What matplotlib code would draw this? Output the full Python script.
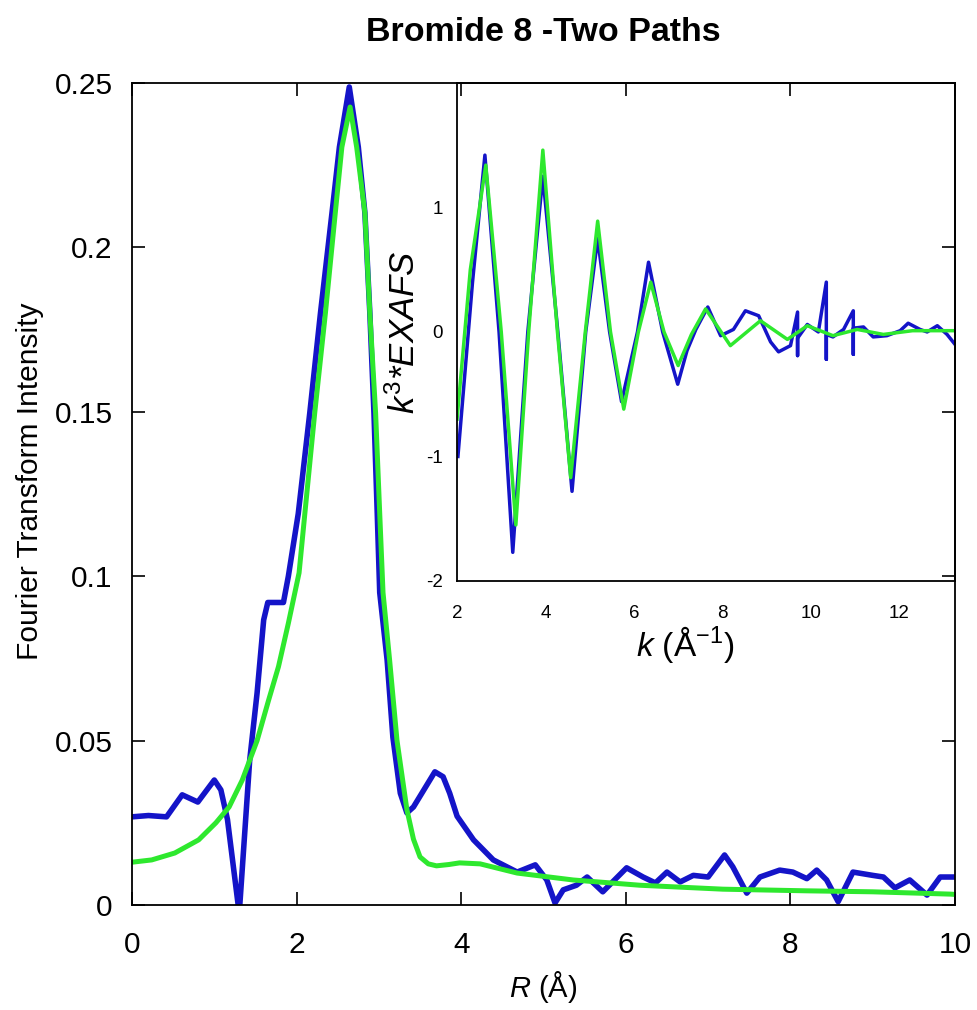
import matplotlib.pyplot as plt

plt.rcParams['font.family'] = ['Liberation Sans', 'DejaVu Sans']
plt.rcParams['mathtext.fontset'] = 'custom'
plt.rcParams['mathtext.rm'] = 'Liberation Sans'
plt.rcParams['mathtext.it'] = 'Liberation Sans:italic'
plt.rcParams['axes.unicode_minus'] = False

# Fourier transform magnitude vs R (Angstrom)
r_data = [0.0, 0.2, 0.42, 0.61, 0.8, 1.0, 1.08, 1.16, 1.23, 1.29, 1.31, 1.43, 1.52,
          1.6, 1.65, 1.84, 1.9, 2.02, 2.16, 2.29, 2.43, 2.52, 2.64, 2.75, 2.83,
          2.89, 2.94, 2.98, 3.01, 3.1, 3.17, 3.26, 3.34, 3.42, 3.68, 3.78, 3.86,
          3.95, 4.15, 4.39, 4.68, 4.9, 5.04, 5.14, 5.24, 5.4, 5.53, 5.72, 6.01,
          6.21, 6.36, 6.5, 6.66, 6.82, 7.0, 7.2, 7.3, 7.47, 7.63, 7.87, 8.03,
          8.2, 8.32, 8.44, 8.58, 8.76, 9.0, 9.13, 9.27, 9.45, 9.66, 9.82, 10.0]
ft_data = [0.0268, 0.0272, 0.0268, 0.0335, 0.0313, 0.038, 0.035, 0.026, 0.012, 0.0,
           0.0, 0.044, 0.0645, 0.0867, 0.092, 0.092, 0.1, 0.119, 0.1496, 0.18,
           0.2105, 0.2305, 0.2488, 0.2305, 0.2105, 0.18, 0.1496, 0.119, 0.095,
           0.0745, 0.051, 0.034, 0.028, 0.0298, 0.0405, 0.039, 0.034, 0.027,
           0.0198, 0.0137, 0.010, 0.0122, 0.0076, 0.0006, 0.0046, 0.006, 0.0085,
           0.004, 0.0113, 0.0085, 0.0067, 0.010, 0.007, 0.009, 0.0085, 0.0152,
           0.0116, 0.0036, 0.0085, 0.0106, 0.010, 0.008, 0.0106, 0.0076, 0.001,
           0.010, 0.009, 0.0085, 0.0052, 0.0076, 0.003, 0.0085, 0.0085]

r_fit = [0.0, 0.24, 0.52, 0.81, 1.02, 1.18, 1.34, 1.52, 1.66, 1.78, 1.9, 2.03,
         2.1, 2.22, 2.35, 2.47, 2.55, 2.65, 2.73, 2.83, 2.89, 2.96, 3.01, 3.05,
         3.13, 3.22, 3.34, 3.42, 3.5, 3.6, 3.7, 3.85, 3.98, 4.23, 4.68, 5.36,
         6.17, 7.18, 8.2, 9.0, 9.94, 10.0]
ft_fit = [0.013, 0.0137, 0.0158, 0.0198, 0.025, 0.0298, 0.038, 0.050, 0.0623,
          0.0725, 0.0857, 0.101, 0.119, 0.1496, 0.18, 0.2105, 0.2305, 0.2427,
          0.2305, 0.2105, 0.18, 0.1496, 0.119, 0.095, 0.0745, 0.050, 0.029,
          0.02, 0.0146, 0.0125, 0.0119, 0.0123, 0.0128, 0.0125, 0.0097, 0.0076,
          0.006, 0.0048, 0.0043, 0.004, 0.0033, 0.0032]

# k^3-weighted EXAFS (inset)
k_data = [2.02, 2.35, 2.63, 2.95, 3.26, 3.6, 3.94, 4.28, 4.6, 4.91, 5.18, 5.45,
          5.72, 6.08, 6.33, 6.65, 6.99, 7.2, 7.4, 7.67, 7.96, 8.25, 8.52, 8.82,
          9.09, 9.27, 9.54, 9.7, 9.7, 9.7, 9.92, 10.17, 10.35, 10.35, 10.35,
          10.5, 10.74, 10.96, 10.96, 10.96, 11.19, 11.41, 11.72, 12.02, 12.2,
          12.47, 12.63, 12.86, 13.08, 13.26]
chi_data = [-1.0, 0.4, 1.42, 0.0, -1.77, 0.0, 1.25, 0.0, -1.28, 0.0, 0.75, 0.0,
            -0.56, 0.0, 0.56, 0.0, -0.42, -0.15, 0.02, 0.2, -0.03, 0.02, 0.17,
            0.13, -0.08, -0.16, -0.11, 0.16, -0.19, -0.05, 0.06, 0.0, 0.4, -0.22,
            -0.02, -0.04, 0.02, 0.17, -0.18, 0.03, 0.04, -0.04, -0.03, 0.01, 0.07,
            0.02, 0.0, 0.05, -0.02, -0.1]

k_fit = [2.0, 2.3, 2.65, 3.0, 3.33, 3.62, 3.94, 4.27, 4.57, 4.9, 5.18, 5.47,
         5.77, 6.1, 6.38, 6.68, 7.0, 7.3, 7.62, 8.18, 8.86, 9.47, 9.92, 10.5,
         11.05, 11.64, 12.3, 13.26]
chi_fit = [-0.7, 0.5, 1.34, 0.0, -1.55, 0.0, 1.46, 0.0, -1.17, 0.0, 0.89, 0.0,
           -0.62, 0.0, 0.40, 0.0, -0.27, -0.02, 0.185, -0.11, 0.09, -0.06, 0.05,
           -0.03, 0.02, -0.02, 0.01, 0.01]

blue = '#1414c8'
green = '#2ee82e'

fig = plt.figure(figsize=(9.77, 10.10), dpi=100)
ax = fig.add_axes([0.1351, 0.1040, 0.8424, 0.8138])
ax.plot(r_data, ft_data, color=blue, lw=4.0, solid_joinstyle='round')
ax.plot(r_fit, ft_fit, color=green, lw=3.6, solid_joinstyle='round')
ax.set_xlim(0, 10)
ax.set_ylim(0, 0.25)
ax.set_xticks([0, 2, 4, 6, 8, 10])
ax.set_xticklabels(['0', '2', '4', '6', '8', '10'])
ax.set_yticks([0, 0.05, 0.1, 0.15, 0.2, 0.25])
ax.set_yticklabels(['0', '0.05', '0.1', '0.15', '0.2', '0.25'])
ax.tick_params(direction='in', length=9.5, width=1.2, top=True, right=True,
               labelsize=21.5, pad=14)
ax.tick_params(axis='x', pad=19)
for s in ax.spines.values():
    s.set_linewidth(1.3)
ax.set_xlabel(r'$\mathit{R}$ (Å)', fontsize=21, labelpad=7)
ax.set_ylabel('Fourier Transform Intensity', fontsize=21.5)
ax.yaxis.set_label_coords(-0.107, 0.516)
ax.set_title('Bromide 8 -Two Paths', fontsize=24.5, fontweight='bold', pad=30)

# inset sits under the main frame so the outer ticks stay visible
ins = fig.add_axes([0.4678, 0.4248, 0.5097, 0.4931])
ins.plot(k_data, chi_data, color=blue, lw=2.5, solid_joinstyle='round')
ins.plot(k_fit, chi_fit, color=green, lw=2.5, solid_joinstyle='round')
ins.set_xlim(2, 13.26)
ins.set_ylim(-2, 2)
ins.set_xticks([2, 4, 6, 8, 10, 12])
ins.set_yticks([-2, -1, 0, 1])
ins.tick_params(length=0, labelsize=13.5)
ins.tick_params(axis='x', pad=17)
ins.tick_params(axis='y', pad=10)
for s in ins.spines.values():
    s.set_linewidth(1.3)
ins.set_xlabel(r'$k$ (Å$^{-1}$)', fontsize=24)
ins.xaxis.set_label_coords(0.458, -0.086)
ins.set_ylabel(r'$k^{3}$*EXAFS', fontsize=25, style='italic', labelpad=3)

ins.set_zorder(1)
ax.set_zorder(2)
ax.patch.set_visible(False)

fig.savefig('out.png', dpi=100, facecolor='white')
